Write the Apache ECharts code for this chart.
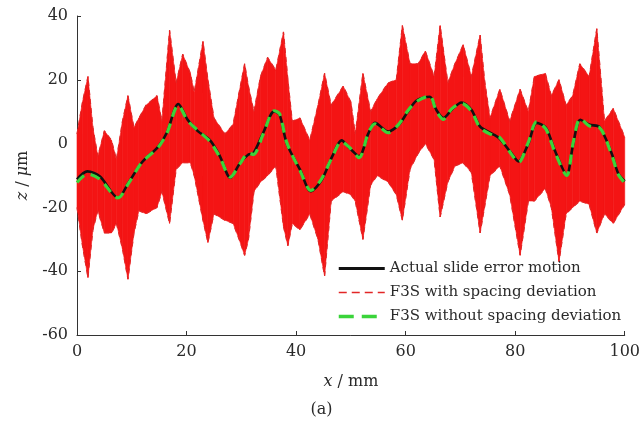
<!DOCTYPE html>
<html>
<head>
<meta charset="utf-8">
<script src="https://cdn.jsdelivr.net/npm/echarts@6/dist/echarts.min.js"></script>
<style>
html, body { margin: 0; padding: 0; background: #fff; }
#main { width: 643px; height: 435px; }
</style>
</head>
<body>
<div id="main"></div>
<script>
// actual slide error motion (black)
var actualX = [0, 1.9, 4.2, 7.5, 9.4, 11.8, 14.8, 16.4, 18.5, 20.2, 22.0, 24.3, 26.1, 28.0, 29.8, 31.3, 32.2, 34.0, 36.0, 37.0, 38.3,
  40.7, 42.7, 44.6, 46.6, 48.3, 49.8, 51.5, 53.2, 54.4, 56.8, 58.8, 60.4, 62.0, 64.4, 65.6, 66.9, 68.4, 70.2, 72.0, 73.6,
  75.9, 77.2, 79.3, 80.6, 82.4, 83.9, 85.6, 87.2, 89.4, 90.6, 91.9, 93.6, 95.4, 97.6, 98.8, 100];
var actualZ = [-11.2, -8.7, -10.3, -17, -12.3, -6, -1, 3.4, 12.4, 7.5, 4, 1, -4, -10.7, -6, -3.4, -3, 3.4, 10.1, 9, 0,
  -8.1, -14.9, -11.6, -4, 1, -1.5, -4, 3.2, 6.5, 3.8, 6, 10, 13.5, 14.7, 10.6, 8, 10.6, 12.9, 10.6, 5.3,
  3, 1.5, -3, -5.6, 0, 6.5, 5, -2, -9.7, 0, 7.5, 5.9, 5.2, -3, -9.3, -11.8];

// F3S without spacing deviation (green)
var noDevZ = [-12.2, -9.5, -11.2, -17, -12.5, -6, -1.2, 3.2, 12, 7.2, 4.2, 0.6, -4.3, -10.5, -6.2, -3, -3.4, 3, 10.3, 9.3, 0.3,
  -8.4, -14.7, -11.2, -4.2, 0.6, -1.3, -4.4, 3.4, 6.2, 3.4, 6.2, 10.3, 13.2, 14.9, 10.2, 7.6, 10.9, 12.6, 10.2, 5.0,
  2.6, 1.9, -3.3, -5.9, 0.4, 6.8, 4.6, -2.4, -10, 0.4, 7.8, 5.5, 5.0, -3.4, -9.6, -12.3];

// F3S with spacing deviation: envelope of the ensemble (red)
var spreadX = [0, 1.0, 2.0, 2.9, 3.8, 5.0, 6.3, 7.2, 8.3, 9.3, 10.4, 11.3, 12.6, 14.6, 15.5, 16.9, 18.1, 19.3, 20.7, 21.4,
  23.0, 23.9, 25.0, 27.0, 28.5, 29.6, 30.6, 31.3, 32.3, 33.5, 34.8, 36.3, 37.7, 38.5, 39.3, 40.7, 42.5, 44.0, 45.2, 46.4,
  48.6, 50.0, 50.8, 52.2, 53.6, 54.8, 56.8, 58.3, 59.4, 60.8, 62.3, 63.6, 65.2, 66.3, 67.7, 69.0, 70.5, 72.0, 73.6, 74.4,
  75.4, 77.2, 79.0, 80.9, 82.4, 83.5, 85.5, 86.6, 88.0, 89.3, 90.5, 91.8, 93.5, 94.9, 96.3, 97.9, 100];
var spreadTop = [3, 13, 21, 5, -4, 4, 1, -5, 7, 15, 5, 8, 12, 15, 7, 35.5, 19, 28, 22, 16,
  32, 20, 8, 3, 6, 16, 25, 18, 10, 21, 27, 23, 35, 20, 7, 8, 1, 12, 22, 12,
  18, 13, 3, 22, 10, 14, 19, 20, 37, 25, 25, 29, 21, 37, 19, 25, 31, 21, 34, 20,
  8, 17, 7, 17, 10, 21, 22, 15, 20, 12, 15, 25, 21, 36, 7, 11, 2];
var spreadBottom = [-20, -32, -42, -27, -21, -28, -28, -25, -33, -42.5, -28, -21, -22, -20, -15, -25, -8, -6, -6, -10,
  -24, -31, -22, -24, -25, -30, -35, -30, -15, -12, -10, -7, -26, -32, -25, -27, -22, -30, -41.5, -18,
  -15, -16, -18, -30, -13, -10, -12, -16, -24, -8, -3, 0, -5, -23, -12, -7, -6, -9, -28, -20,
  -10, -7, -16, -35, -18, -18, -14, -20, -37, -22, -20, -18, -19, -28, -22, -25, -19];

var xTicks = { min: 0, max: 100, step: 20 };
var zTicks = { min: -60, max: 40, step: 20 };

function pairs(xs, ys) {
  return xs.map(function (x, i) { return [x, ys[i]]; });
}

// one quad per step between neighbouring envelope samples
var spreadQuads = [];
for (var i = 0; i < spreadX.length - 1; i++) {
  spreadQuads.push([spreadX[i], spreadTop[i], spreadBottom[i], spreadX[i + 1], spreadTop[i + 1], spreadBottom[i + 1]]);
}

var serif = 'DejaVu Serif';
var txt = '#2a2a2a';
var red = '#f41414';
var redName = 'F3S with spacing deviation';
var blackName = 'Actual slide error motion';
var greenName = 'F3S without spacing deviation';

var chart = echarts.init(document.getElementById('main'));
chart.setOption({
  animation: false,
  title: {
    text: '(a)', left: 'center', top: 397,
    textStyle: { fontFamily: serif, fontSize: 16, fontWeight: 'normal', color: txt }
  },
  grid: { left: 77, right: 17, top: 16, bottom: 100 },
  legend: {
    orient: 'vertical', left: 332, top: 256,
    itemWidth: 46, itemHeight: 14, itemGap: 9,
    itemStyle: { opacity: 0 },
    textStyle: { fontFamily: serif, fontSize: 15, color: txt },
    data: [
      { name: blackName, lineStyle: { width: 3 } },
      { name: redName, lineStyle: { width: 1.5, type: [8, 5] } },
      { name: greenName, lineStyle: { width: 3.5, type: [15, 8] } }
    ]
  },
  xAxis: {
    type: 'value', min: xTicks.min, max: xTicks.max, interval: xTicks.step,
    name: '{i|x} / mm', nameLocation: 'middle', nameGap: 39,
    nameTextStyle: { fontFamily: serif, fontSize: 16, color: txt,
      rich: { i: { fontFamily: serif, fontSize: 16, fontStyle: 'italic', color: txt } } },
    axisLine: { show: true, onZero: false, lineStyle: { color: '#333', width: 1 } },
    axisTick: { show: true, inside: true, length: 4, lineStyle: { color: '#333' } },
    axisLabel: { fontFamily: serif, fontSize: 16, color: txt, margin: 9 },
    splitLine: { show: false }
  },
  yAxis: {
    type: 'value', min: zTicks.min, max: zTicks.max, interval: zTicks.step,
    name: '{i|z} / {i|μ}m', nameLocation: 'middle', nameGap: 42,
    nameTextStyle: { fontFamily: serif, fontSize: 16, color: txt,
      rich: { i: { fontFamily: serif, fontSize: 16, fontStyle: 'italic', color: txt } } },
    axisLine: { show: true, onZero: false, lineStyle: { color: '#333', width: 1 } },
    axisTick: { show: true, inside: true, length: 4, lineStyle: { color: '#333' } },
    axisLabel: { fontFamily: serif, fontSize: 16, color: txt, margin: 9 },
    splitLine: { show: false }
  },
  series: [
    {
      name: 'spread', type: 'custom', silent: true, z: 1,
      data: spreadQuads,
      encode: { x: [0, 3], y: [1, 2, 4, 5] },
      renderItem: function (params, api) {
        var pts = [
          api.coord([api.value(0), api.value(1)]),
          api.coord([api.value(3), api.value(4)]),
          api.coord([api.value(3), api.value(5)]),
          api.coord([api.value(0), api.value(2)])
        ];
        return { type: 'polygon', shape: { points: pts }, style: { fill: red, stroke: red, lineWidth: 0.6 } };
      }
    },
    {
      name: redName, type: 'line', data: pairs(spreadX, spreadTop), symbol: 'none', z: 2,
      lineStyle: { color: '#e22626', width: 1.2, type: [5, 4] }, itemStyle: { color: '#e22626' }
    },
    {
      name: redName, type: 'line', data: pairs(spreadX, spreadBottom), symbol: 'none', z: 2,
      lineStyle: { color: '#e22626', width: 1.2, type: [5, 4] }, itemStyle: { color: '#e22626' }
    },
    {
      name: blackName, type: 'line', data: pairs(actualX, actualZ), symbol: 'none', smooth: 0.3, z: 3,
      lineStyle: { color: '#111', width: 2.6 }, itemStyle: { color: '#111' }
    },
    {
      name: greenName, type: 'line', data: pairs(actualX, noDevZ), symbol: 'none', smooth: 0.3, z: 4,
      lineStyle: { color: '#3ad43a', width: 3.2, type: [10, 7] }, itemStyle: { color: '#3ad43a' }
    }
  ]
});
</script>
</body>
</html>
